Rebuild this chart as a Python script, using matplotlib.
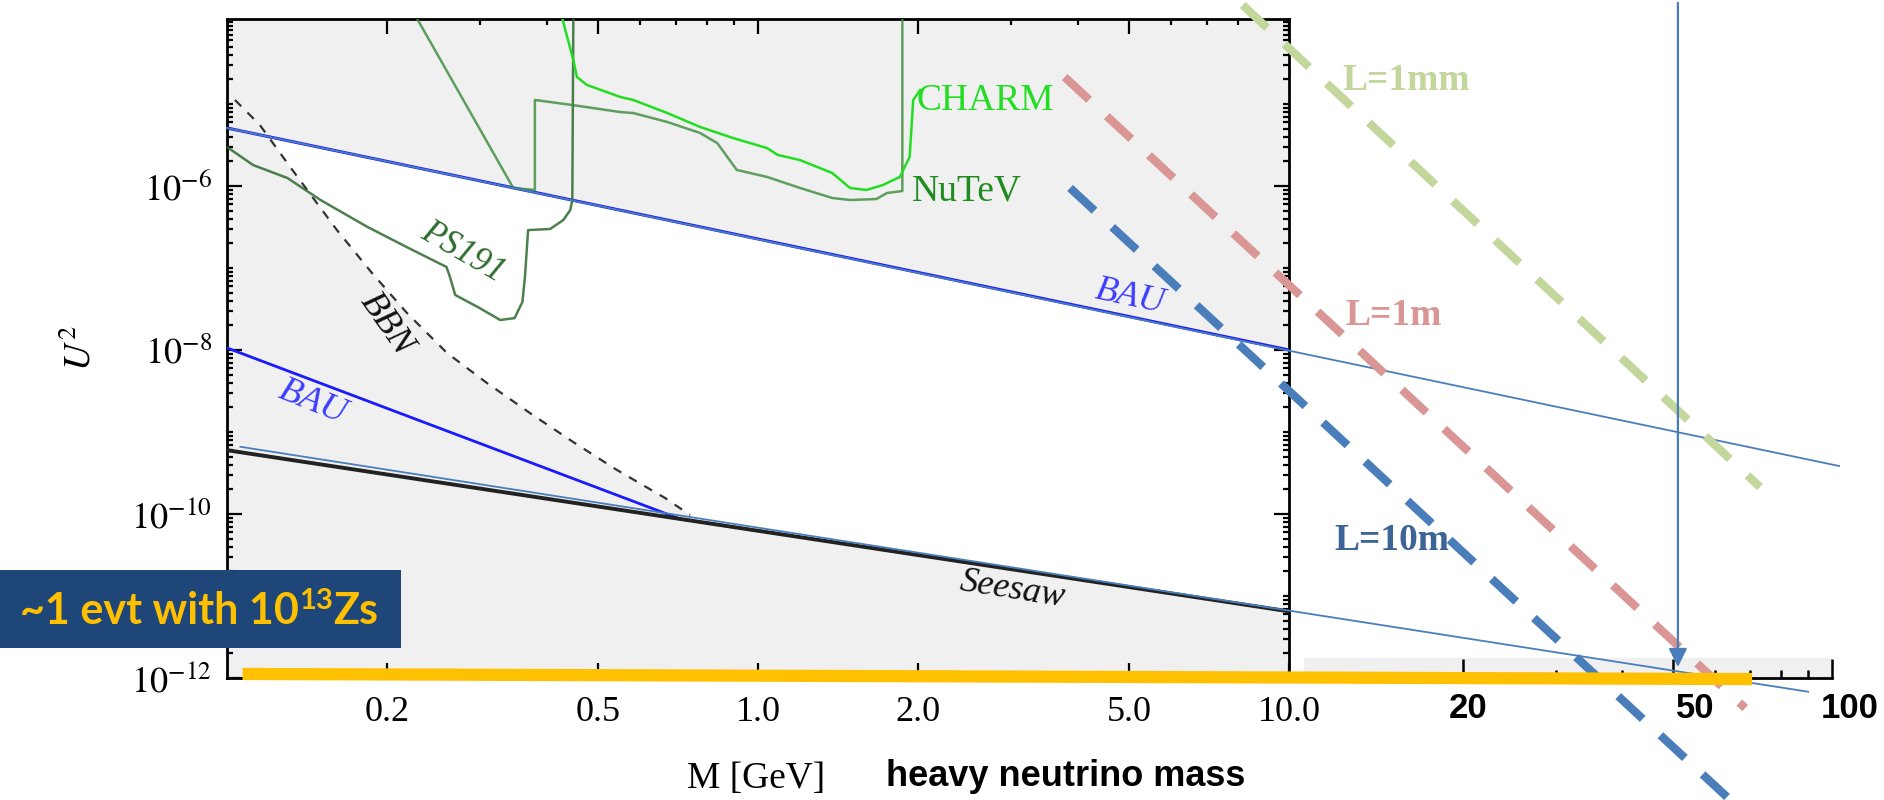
import numpy as np
import matplotlib
matplotlib.use('Agg')
import matplotlib.pyplot as plt
from matplotlib.patches import Rectangle
from matplotlib.ticker import FixedLocator, NullFormatter

plt.rcParams['font.family'] = ['Liberation Serif', 'DejaVu Serif']
plt.rcParams['mathtext.fontset'] = 'stix'

W, H = 1884, 800

# ---- data (M in GeV, U^2) ----
bau_M = [0.1, 10.0]
bau_U2 = [5.1e-6, 1.0e-8]
bau_ext_M = [0.1, 108.6]
bau_ext_U2 = [5.1e-6, 3.85e-10]
bau_low_M = [0.1, 0.71]
bau_low_U2 = [1.06e-8, 8.8e-11]
seesaw_M = [0.1, 10.0]
seesaw_U2 = [6.0e-10, 6.5e-12]
seesaw_ext_M = [0.106, 95.0]
seesaw_ext_U2 = [6.6e-10, 6.8e-13]

bbn_M = [0.1035, 0.1153, 0.1315, 0.1416, 0.1611, 0.1875, 0.2183,
         0.2597, 0.3087, 0.3767, 0.4487, 0.5425, 0.668, 0.7447]
bbn_U2 = [1.12e-5, 5.55e-6, 1.71e-6, 8.94e-7, 2.90e-7, 8.69e-8, 2.82e-8,
          9.18e-9, 3.96e-9, 1.61e-9, 7.55e-10, 3.44e-10, 1.57e-10, 9.73e-11]

ps191_M = [0.100, 0.112, 0.130, 0.150, 0.184, 0.218, 0.259, 0.263, 0.269,
           0.299, 0.327, 0.348, 0.360, 0.364, 0.369, 0.406, 0.430, 0.443,
           0.447, 0.449]
ps191_U2 = [2.99e-6, 1.80e-6, 1.25e-6, 6.75e-7, 3.16e-7, 1.80e-7, 1.03e-7,
            7.76e-8, 4.69e-8, 3.25e-8, 2.32e-8, 2.45e-8, 3.85e-8, 7.76e-8,
            2.90e-7, 2.99e-7, 3.85e-7, 5.09e-7, 6.75e-7, 1.1e-4]

nutev_M = [0.228, 0.346, 0.380, 0.380, 0.447, 0.550, 0.582, 0.675, 0.778,
           0.838, 0.912, 1.04, 1.20, 1.38, 1.49, 1.67, 1.75, 1.87, 1.87]
nutev_U2 = [1.1e-4, 9.46e-7, 8.94e-7, 1.12e-5, 9.72e-6, 7.98e-6, 7.76e-6,
            6.03e-6, 4.43e-6, 3.34e-6, 1.57e-6, 1.29e-6, 9.46e-7, 7.14e-7,
            6.75e-7, 6.93e-7, 8.22e-7, 8.69e-7, 1.1e-4]

charm_M = [0.428, 0.449, 0.456, 0.476, 0.550, 0.582, 0.675, 0.778, 0.897,
           1.04, 1.09, 1.20, 1.38, 1.49, 1.60, 1.72, 1.85, 1.93, 1.96, 2.02]
charm_U2 = [1.1e-4, 3.44e-5, 2.13e-5, 1.71e-5, 1.22e-5, 1.12e-5, 7.76e-6,
            5.25e-6, 3.85e-6, 2.90e-6, 2.39e-6, 2.07e-6, 1.44e-6, 9.46e-7,
            8.94e-7, 1.03e-6, 1.29e-6, 2.26e-6, 1.12e-5, 1.48e-5]

L1mm_M = [8.18, 77.1]
L1mm_U2 = [1.61e-4, 2.13e-10]
L1m_M = [3.78, 72.3]
L1m_U2 = [2.13e-5, 4.3e-13]
L10m_M = [3.87, 80.0]
L10m_U2 = [9.46e-7, 1.2e-14]

reach_M = 54.0
reach_U2 = 1.26e-12
orange_M = [0.107, 74.5]
orange_U2 = [1.12e-12, 0.97e-12]

x_ticks = [0.2, 0.5, 1.0, 2.0, 5.0, 10.0]
x_labels = ['0.2', '0.5', '1.0', '2.0', '5.0', '10.0']
y_ticks = [1e-12, 1e-10, 1e-8, 1e-6]
y_labels = [r'$10^{-12}$', r'$10^{-10}$', r'$10^{-8}$', r'$10^{-6}$']
ext_ticks = [20, 50, 100]
ext_labels = ['20', '50', '100']

# colours
GRAY = '#f0f0f0'
STEEL = '#4a7ebb'
C_1MM = '#c3d69b'
C_1M = '#d99694'
C_10M = '#4a7ebb'
ORANGE = '#ffc000'


def fx(x):
    return x / W


def fy(y):
    return 1 - y / H


fig = plt.figure(figsize=(W / 100, H / 100), dpi=100)
fig.patch.set_facecolor('white')

# main plot: 0.1..10 GeV over 227..1289 px, 1e-12 at 678 px, 82 px per decade
ax = fig.add_axes([fx(227), fy(678), (1289 - 227) / W, (678 - 19) / H])
ax.set_xscale('log')
ax.set_yscale('log')
ax.set_xlim(0.1, 10)
ax.set_ylim(1e-12, 10 ** (-12 + 659 / 82))
ax.set_facecolor(GRAY)

# allowed (white) region: under BAU, above BBN / seesaw
lg = np.linspace(-1, 1, 1500)
up = np.interp(lg, np.log10(bau_M), np.log10(bau_U2))
ss = np.interp(lg, np.log10(seesaw_M), np.log10(seesaw_U2))
bb = np.interp(lg, np.log10(bbn_M), np.log10(bbn_U2), left=np.inf, right=-np.inf)
lo = np.maximum(bb, ss)
mask = lo < up
lo = np.where(mask, lo, up)
ax.fill_between(10 ** lg, 10 ** lo, 10 ** up, where=mask, color='white', lw=0, zorder=0.5)

ax.plot(bau_M, bau_U2, color='#1a1aff', lw=2.2, zorder=3)
ax.plot(bau_low_M, bau_low_U2, color='#1a1aff', lw=2.0, zorder=3)
ax.plot(seesaw_M, seesaw_U2, color='#222222', lw=2.8, zorder=3)
ax.plot(bbn_M, bbn_U2, color='#333333', lw=1.6, dashes=(4, 4), zorder=3)
ax.plot(ps191_M, ps191_U2, color='#2f6a2f', lw=1.8, alpha=0.85, zorder=3)
ax.plot(nutev_M, nutev_U2, color='#3a8a3a', lw=1.8, alpha=0.8, zorder=3)
ax.plot(charm_M, charm_U2, color='#22dd22', lw=1.8, zorder=3)

ax.xaxis.set_major_locator(FixedLocator(x_ticks))
ax.xaxis.set_minor_locator(FixedLocator([0.3, 0.4, 0.6, 0.7, 0.8, 0.9, 3, 4, 6, 7, 8, 9]))
ax.set_xticklabels(x_labels)
ax.xaxis.set_minor_formatter(NullFormatter())
ax.yaxis.set_major_locator(FixedLocator(y_ticks))
ym = [k * 10.0 ** e for e in range(-12, -3) for k in range(1, 10)]
ax.yaxis.set_minor_locator(FixedLocator([v for v in ym if v not in y_ticks]))
ax.set_yticklabels(y_labels)
ax.yaxis.set_minor_formatter(NullFormatter())
ax.tick_params(which='both', direction='in', top=True, right=True, width=1.6, labelsize=26)
ax.tick_params(which='major', length=11)
ax.tick_params(which='minor', length=4.5)
ax.tick_params(axis='x', pad=13)
ax.tick_params(axis='y', pad=11)
for sp in ax.spines.values():
    sp.set_linewidth(2)

# extension of the mass axis, 10..100 GeV
ext = fig.add_axes([fx(1304), fy(678), (1832 - 1304) / W, 20 / H])
ext.set_xscale('log')
ext.set_xlim(10, 100)
ext.set_facecolor(GRAY)
for s in ['top', 'left', 'right']:
    ext.spines[s].set_visible(False)
ext.spines['bottom'].set_linewidth(2)
ext.set_yticks([])
ext.xaxis.set_major_locator(FixedLocator(ext_ticks))
ext.xaxis.set_minor_locator(FixedLocator([30, 40, 60, 70, 80, 90]))
ext.xaxis.set_major_formatter(NullFormatter())
ext.xaxis.set_minor_formatter(NullFormatter())
ext.tick_params(which='both', direction='in', width=1.8)
ext.tick_params(which='major', length=14)
ext.tick_params(which='minor', length=6)
for t, lab, dx in zip(ext_ticks, ext_labels, [5, 22, 18]):
    ext.annotate(lab, xy=(t, 0), xycoords=('data', 'axes fraction'),
                 xytext=(dx * 0.72, -31 * 0.72), textcoords='offset points',
                 ha='center', va='center', fontsize=25, fontweight='bold',
                 family='Liberation Sans', annotation_clip=False)

# overlay spanning the whole slide with the same log scales
ov = fig.add_axes([0, 0, 1, 1])
ov.set_xscale('log')
ov.set_yscale('log')
ov.set_xlim(10 ** (-1 - 227 / 531), 10 ** (1 + (W - 1289) / 531))
ov.set_ylim(10 ** (-12 - (H - 678) / 82), 10 ** (-12 + 678 / 82))
ov.set_axis_off()
ov.patch.set_visible(False)

ov.plot(bau_ext_M, bau_ext_U2, color=STEEL, lw=1.3, zorder=3)
ov.plot(seesaw_ext_M, seesaw_ext_U2, color=STEEL, lw=1.3, zorder=3)
for m, u, c in [(L1mm_M, L1mm_U2, C_1MM), (L1m_M, L1m_U2, C_1M), (L10m_M, L10m_U2, C_10M)]:
    ov.plot(m, u, color=c, lw=6, dashes=(4, 2.9), solid_capstyle='butt',
            dash_capstyle='butt', zorder=4)
ov.annotate('', xy=(reach_M, reach_U2), xytext=(reach_M, ov.get_ylim()[1]),
            arrowprops=dict(arrowstyle='-|>', color=STEEL, lw=1.6, mutation_scale=28),
            zorder=5)
ov.plot(orange_M, orange_U2, color=ORANGE, lw=8.8, solid_capstyle='butt', zorder=6)

# labels inside the plot
ser = dict(family='Liberation Serif', ha='center', va='center')
fig.text(fx(917), fy(101), 'CHARM', color='#22dd22', fontsize=27, family='Liberation Serif', ha='left', va='center')
fig.text(fx(912), fy(191), 'NuTeV', color='#1e8c1e', fontsize=27, family='Liberation Serif', ha='left', va='center')
fig.text(fx(463), fy(252), 'PS191', color='#2e6b2e', fontsize=25, style='italic', rotation=-30, **ser)
fig.text(fx(386), fy(324), 'BBN', color='#111111', fontsize=26, style='italic', rotation=-55, **ser)
fig.text(fx(1130), fy(297), 'BAU', color='#3c3cff', fontsize=26, style='italic', rotation=-12, **ser)
fig.text(fx(312), fy(402), 'BAU', color='#3c3cff', fontsize=26, style='italic', rotation=-22, **ser)
fig.text(fx(1012), fy(590), 'Seesaw', color='#111111', fontsize=26, style='italic', rotation=-9, **ser)
fig.text(fx(1406), fy(80), 'L=1mm', color=C_1MM, fontsize=27, fontweight='bold', **ser)
fig.text(fx(1394), fy(315), 'L=1m', color=C_1M, fontsize=27, fontweight='bold', **ser)
fig.text(fx(1392), fy(540), 'L=10m', color='#3c6496', fontsize=27, fontweight='bold', **ser)

# axis titles
fig.text(fx(80), fy(348), r'$U^2$', fontsize=27, rotation=90, ha='center', va='center')
fig.text(fx(756), fy(779), 'M [GeV]', fontsize=27, **ser)
fig.text(fx(886), fy(776), 'heavy neutrino mass', fontsize=26, fontweight='bold',
         family='Liberation Sans', ha='left', va='center')

# call-out box
fig.add_artist(Rectangle((0, fy(648)), 401 / W, 78 / H, transform=fig.transFigure,
                         facecolor='#1f4678', edgecolor='none', zorder=7))
box_font = dict(family='Lato', fontweight='bold', color=ORANGE, zorder=8)
t1 = fig.text(fx(20), fy(611), '~1 evt with 10', fontsize=31, va='center', ha='left', **box_font)
fig.canvas.draw()
r = fig.canvas.get_renderer()
bb1 = t1.get_window_extent(r)
t2 = fig.text(bb1.x1 / W, fy(601), '13', fontsize=21, va='center', ha='left', **box_font)
bb2 = t2.get_window_extent(r)
fig.text(bb2.x1 / W, fy(611), 'Zs', fontsize=31, va='center', ha='left', **box_font)

fig.savefig('out.png', dpi=100)
